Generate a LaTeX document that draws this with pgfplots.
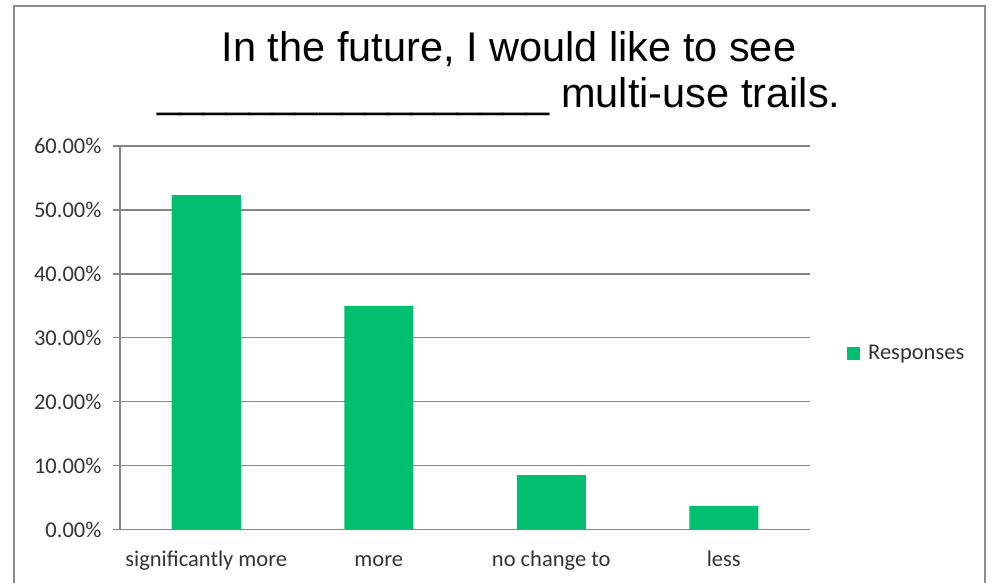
\documentclass[border=0pt]{standalone}
\usepackage{fontspec}
\setmainfont{Carlito}
\newfontfamily\titlefont{Liberation Sans}
\usepackage{pgfplots}
\pgfplotsset{compat=1.18}
\definecolor{barg}{HTML}{00BF6F}
\definecolor{gridg}{HTML}{868686}
\definecolor{frameg}{HTML}{8C8C8C}
\begin{document}
\begin{tikzpicture}
\begin{axis}[
    at={(120pt,52.5pt)}, anchor=south west,
    scale only axis, width=690pt, height=383.5pt,
    xmin=-0.5, xmax=3.5, ymin=0, ymax=60,
    ybar, bar width=69pt,
    axis x line*=bottom, axis y line*=left,
    axis line style={gridg, line width=1.4pt, -},
    ymajorgrids, grid style={gridg, line width=1.4pt},
    ytick={0,10,...,60},
    yticklabel={\pgfmathprintnumber[fixed,fixed zerofill,precision=2]{\tick}\%},
    /pgf/number format/assume math mode=true,
    xtick={0,1,2,3},
    xticklabels={significantly more, more, no change to, less},
    x tick style={draw=none},
    extra x ticks={-0.5,0.5,1.5,2.5,3.5},
    extra x tick labels={},
    extra x tick style={major tick length=7pt, tick align=outside, xmajorgrids=false,
        tick style={gridg, line width=1.4pt, draw=gridg}},
    y tick style={gridg, line width=1.4pt},
    major tick length=7pt, tick align=outside,
    ticklabel style={font=\fontsize{22.5}{26}\selectfont, text=black!80},
    yticklabel style={xshift=-8pt},
    xticklabel style={text height=16pt, text depth=5pt, yshift=-10pt},
    legend style={at={(rel axis cs:1,0.46)}, anchor=west, xshift=34pt,
        draw=none, fill=none, font=\fontsize{22.5}{26}\selectfont, text=black!80},
    legend image code/.code={\fill[barg] (0pt,-6.5pt) rectangle (13pt,6.5pt);
        \path (13pt,0pt) -- (19pt,0pt);},
]
\addplot[fill=barg, draw=none] coordinates {(0,52.3) (1,35.0) (2,8.5) (3,3.7)};
\legend{Responses}
\end{axis}
\node[font=\titlefont\fontsize{41.5}{48}\selectfont, anchor=base] at (509pt,520pt)
    {In the future, I would like to see};
\node[font=\titlefont\fontsize{41.5}{48}\selectfont, anchor=base] at (499pt,474pt)
    {\_\_\_\_\_\_\_\_\_\_\_\_\_\_\_\_\_ multi-use trails.};
\draw[frameg, line width=2pt] (14pt,-5pt) -- (14pt,576pt) -- (985pt,576pt) -- (985pt,-5pt);
\pgfresetboundingbox
\path[use as bounding box] (0pt,0pt) rectangle (994pt,582pt);
\end{tikzpicture}
\end{document}
